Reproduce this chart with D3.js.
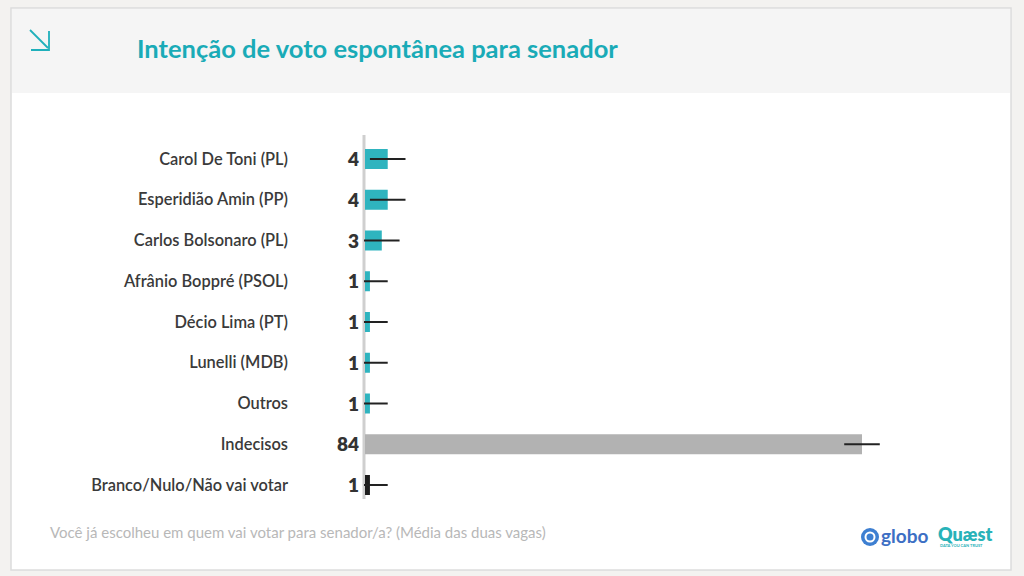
<!DOCTYPE html>
<html>
<head>
<meta charset="utf-8">
<script src="https://cdn.jsdelivr.net/npm/d3@7"></script>
<style>
  html, body { margin: 0; padding: 0; background: #f3f2f0; }
  svg { display: block; }
</style>
</head>
<body>
<svg id="chart" width="1024" height="576"></svg>
<script>
// data
var categories = [
  "Carol De Toni (PL)",
  "Esperidião Amin (PP)",
  "Carlos Bolsonaro (PL)",
  "Afrânio Boppré (PSOL)",
  "Décio Lima (PT)",
  "Lunelli (MDB)",
  "Outros",
  "Indecisos",
  "Branco/Nulo/Não vai votar"
];
var values = [4, 4, 3, 1, 1, 1, 1, 84, 1];
var margins = [3, 3, 3, 3, 3, 3, 3, 3, 3];
var kinds = ["cand", "cand", "cand", "cand", "cand", "cand", "cand", "undecided", "blank"];

var colors = { cand: "#2fb4bf", undecided: "#b2b2b2", blank: "#1e1e1e" };

var svg = d3.select("#chart");

// card
svg.append("rect")
  .attr("x", 11).attr("y", 8)
  .attr("width", 1000).attr("height", 562)
  .attr("fill", "#ffffff")
  .attr("stroke", "#dcdcdc")
  .attr("stroke-width", 1.5);

svg.append("rect")
  .attr("x", 12).attr("y", 9)
  .attr("width", 998).attr("height", 84)
  .attr("fill", "#f5f5f5");

// arrow icon
var icon = svg.append("g")
  .attr("stroke", "#1fb0bb")
  .attr("stroke-width", 1.8)
  .attr("fill", "none");
icon.append("line").attr("x1", 30).attr("y1", 30).attr("x2", 48).attr("y2", 48);
icon.append("polyline").attr("points", "31,50 49,50 49,31");

svg.append("text")
  .attr("x", 137).attr("y", 58)
  .attr("fill", "#1aabb7")
  .style("font-family", "Lato, sans-serif")
  .style("font-weight", "700")
  .style("font-size", "25.5px")
  .text("Intenção de voto espontânea para senador");

// scales
var x = d3.scaleLinear().domain([0, 84]).range([364, 862]);
var y = d3.scalePoint().domain(categories).range([159, 485]);
var barH = 20;

// axis line
svg.append("line")
  .attr("x1", x(0)).attr("x2", x(0))
  .attr("y1", 135).attr("y2", 499)
  .attr("stroke", "#cfcfcf")
  .attr("stroke-width", 3);

var rows = svg.append("g").selectAll("g")
  .data(categories)
  .enter()
  .append("g");

rows.append("rect")
  .attr("x", x(0) + 1)
  .attr("y", function(d) { return y(d) - barH / 2; })
  .attr("width", function(d, i) { return x(values[i]) - x(0) - 1; })
  .attr("height", barH)
  .attr("fill", function(d, i) { return colors[kinds[i]]; });

rows.append("line")
  .attr("x1", function(d, i) { return x(Math.max(0, values[i] - margins[i])); })
  .attr("x2", function(d, i) { return x(values[i] + margins[i]); })
  .attr("y1", function(d) { return y(d); })
  .attr("y2", function(d) { return y(d); })
  .attr("stroke", "#222")
  .attr("stroke-width", 2);

rows.append("text")
  .attr("x", 288)
  .attr("y", function(d) { return y(d) + 5.5; })
  .attr("text-anchor", "end")
  .attr("fill", "#3a3a3a")
  .style("font-family", "Lato, sans-serif")
  .style("font-weight", "600")
  .style("font-size", "16.4px")
  .text(function(d) { return d; });

rows.append("text")
  .attr("x", 359)
  .attr("y", function(d) { return y(d) + 7; })
  .attr("text-anchor", "end")
  .attr("fill", "#333")
  .style("font-family", "Lato, sans-serif")
  .style("font-weight", "800")
  .style("font-size", "19px")
  .text(function(d, i) { return values[i]; });

// footer
svg.append("text")
  .attr("x", 50).attr("y", 538)
  .attr("fill", "#b8b8b8")
  .style("font-family", "Lato, sans-serif")
  .style("font-size", "15px")
  .text("Você já escolheu em quem vai votar para senador/a? (Média das duas vagas)");

// logos
var globo = svg.append("g");
globo.append("circle").attr("cx", 870).attr("cy", 537).attr("r", 9).attr("fill", "#3d7fd1");
globo.append("circle").attr("cx", 870).attr("cy", 537).attr("r", 5.5).attr("fill", "#ffffff");
globo.append("circle").attr("cx", 870).attr("cy", 537).attr("r", 3.5).attr("fill", "#3d7fd1");
globo.append("text")
  .attr("x", 881).attr("y", 543)
  .attr("fill", "#3d6fc4")
  .style("font-family", "Lato, sans-serif")
  .style("font-weight", "700")
  .style("font-size", "19px")
  .text("globo");

svg.append("text")
  .attr("x", 938).attr("y", 541)
  .attr("fill", "#28b2b8")
  .style("font-family", "Lato, sans-serif")
  .style("font-weight", "800")
  .style("font-size", "18px")
  .text("Quæst");
svg.append("text")
  .attr("x", 940).attr("y", 547)
  .attr("fill", "#28b2b8")
  .style("font-family", "Lato, sans-serif")
  .style("font-weight", "700")
  .style("font-size", "4px")
  .text("DATA YOU CAN TRUST");
</script>
</body>
</html>
